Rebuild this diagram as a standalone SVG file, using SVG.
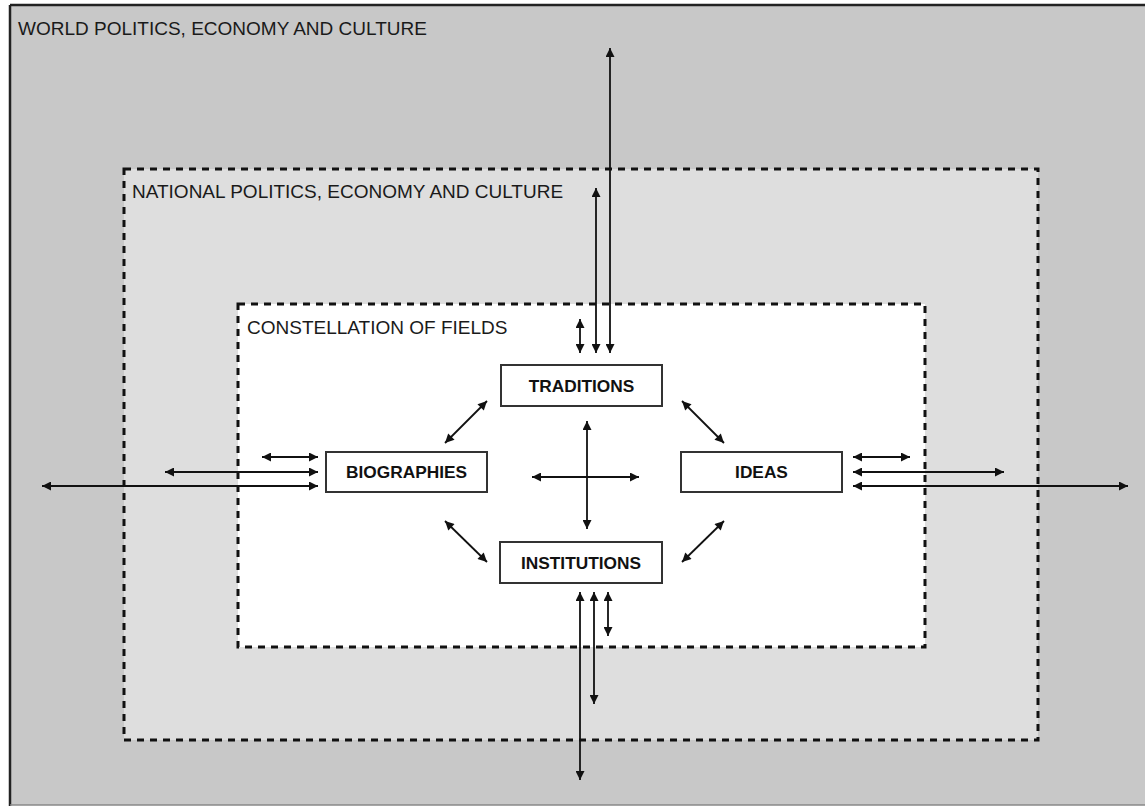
<svg xmlns="http://www.w3.org/2000/svg" width="1145" height="806" viewBox="0 0 1145 806">
<style>
.lbl{font-family:"Liberation Sans",Arial,sans-serif;font-size:19px;fill:#1a1a1a}
.nt{font-family:"Liberation Sans",Arial,sans-serif;font-size:17.3px;font-weight:bold;fill:#111;text-anchor:middle}
.node{fill:#fff;stroke:#333;stroke-width:2}
.zone{stroke:#111;stroke-width:3;stroke-dasharray:7 6}
.con line{stroke:#111;stroke-width:1.8;marker-start:url(#ah);marker-end:url(#ah)}
</style>
<defs>
<marker id="ah" viewBox="0 0 10 10" refX="10" refY="5" markerWidth="10" markerHeight="9" markerUnits="userSpaceOnUse" orient="auto-start-reverse">
<path d="M0,0 L10,5 L0,10 z" fill="#111"/>
</marker>
</defs>
<g id="world">
<rect x="10" y="5" width="1140" height="800" fill="#c8c8c8"/>
<line x1="10" y1="5" x2="1145" y2="5" stroke="#222" stroke-width="2.5"/>
<line x1="10" y1="5" x2="10" y2="806" stroke="#222" stroke-width="2.5"/>
<line x1="10" y1="805" x2="1145" y2="805" stroke="#888" stroke-width="1.5"/>
<text class="lbl" x="18" y="35">WORLD POLITICS, ECONOMY AND CULTURE</text>
</g>
<g id="national">
<rect class="zone" x="124" y="169" width="914" height="571" fill="#dedede"/>
<text class="lbl" x="132" y="198">NATIONAL POLITICS, ECONOMY AND CULTURE</text>
</g>
<g id="constellation">
<rect class="zone" x="238" y="304" width="687" height="343" fill="#fff"/>
<text class="lbl" x="247" y="334">CONSTELLATION OF FIELDS</text>
</g>
<g id="traditions"><rect class="node" x="501" y="365" width="161" height="41"/><text class="nt" x="581.5" y="391.5">TRADITIONS</text></g>
<g id="biographies"><rect class="node" x="326" y="452" width="161" height="40"/><text class="nt" x="406.5" y="478">BIOGRAPHIES</text></g>
<g id="ideas"><rect class="node" x="681" y="452" width="161" height="40"/><text class="nt" x="761.5" y="478">IDEAS</text></g>
<g id="institutions"><rect class="node" x="500" y="542" width="162" height="41"/><text class="nt" x="581" y="568.5">INSTITUTIONS</text></g>
<g id="connectors" class="con">
<line x1="262" y1="457" x2="318" y2="457"/>
<line x1="165" y1="472" x2="318" y2="472"/>
<line x1="42" y1="486" x2="318" y2="486"/>
<line x1="853" y1="457" x2="910" y2="457"/>
<line x1="853" y1="472" x2="1004" y2="472"/>
<line x1="853" y1="486" x2="1128" y2="486"/>
<line x1="580" y1="319" x2="580" y2="353"/>
<line x1="596" y1="188" x2="596" y2="353"/>
<line x1="610" y1="48" x2="610" y2="353"/>
<line x1="580" y1="592" x2="580" y2="780"/>
<line x1="594" y1="592" x2="594" y2="704"/>
<line x1="608" y1="592" x2="608" y2="636"/>
<line x1="445" y1="443" x2="487" y2="401"/>
<line x1="682" y1="401" x2="724" y2="443"/>
<line x1="445" y1="521" x2="487" y2="562"/>
<line x1="724" y1="521" x2="682" y2="562"/>
<line x1="587" y1="421" x2="587" y2="529"/>
<line x1="532" y1="477" x2="639" y2="477"/>
</g>
</svg>
